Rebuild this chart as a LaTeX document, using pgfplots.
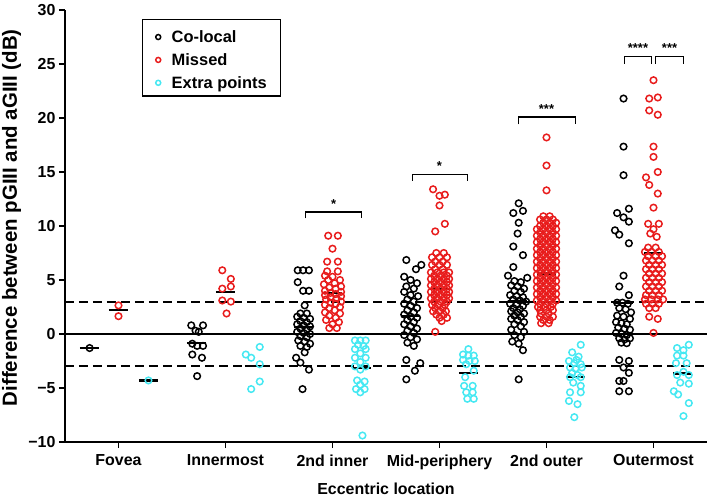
\documentclass[border=0pt]{standalone}
\usepackage{fontspec}
\setmainfont{Liberation Sans}
\usepackage{pgfplots}
\pgfplotsset{compat=1.18}
\definecolor{ptred}{RGB}{232,28,28}
\definecolor{ptcyan}{RGB}{70,232,242}

\pgfplotsset{
  pts/.style={only marks, mark=o, mark size=3.3bp, mark options={line width=1.5bp}},
  meanline/.style={black, line width=2.2bp, forget plot},
  bracket/.style={black, line width=1.3bp, forget plot},
}

\begin{document}
\begin{tikzpicture}
\useasboundingbox (-65bp,-56bp) rectangle (644bp,442bp);
\begin{axis}[
  scale only axis, width=642bp, height=432bp,
  xmin=-0.5, xmax=5.5, ymin=-10, ymax=30,
  clip=false,
  axis lines=left, axis line style={line width=1.8bp,-},
  xtick={0,...,5},
  xticklabels={Fovea,Innermost,2nd inner,Mid-periphery,2nd outer,Outermost},
  ytick={-10,-5,...,30},
  yticklabels={−10,−5,0,5,10,15,20,25,30},
  minor tick num=0,
  tick align=outside, major tick length=6bp,
  tick style={line width=1.5bp, black},
  tick label style={font=\fontsize{16}{18}\selectfont\bfseries},
  xticklabel style={yshift=-3bp},
  xlabel={Eccentric location},
  ylabel={Difference between pGIII and aGIII (dB)},
  xlabel style={font=\fontsize{16}{19}\selectfont\bfseries,
    at={(axis description cs:0.5,-0.109)}, anchor=center},
  ylabel style={font=\fontsize{20.5}{22}\selectfont\bfseries,
    at={(axis description cs:-0.083,0.519)}, anchor=center},
  legend style={at={(0.141,0.958)}, anchor=north west, draw=none, fill=none,
    font=\fontsize{16.5}{18}\selectfont\bfseries, row sep=5.5bp,
    inner xsep=0bp, inner ysep=0bp, cells={anchor=west},
    /tikz/every odd column/.append style={column sep=9bp}},
  legend image code/.code={\draw[#1, mark size=2.5bp] plot coordinates {(0bp,0bp)};},
]

% reference lines
\addplot[black, line width=2bp, forget plot] coordinates {(-0.5,0)(5.5,0)};
\addplot[black, line width=2bp, dash pattern=on 9bp off 5bp, forget plot] coordinates {(-0.5,3)(5.5,3)};
\addplot[black, line width=2bp, dash pattern=on 9bp off 5bp, forget plot] coordinates {(-0.5,-3)(5.5,-3)};

% Co-local
\addplot[pts, black] coordinates {
 (-0.27,-1.3)
 (0.68,0.8)(0.79,0.8)(0.72,0.3)(0.75,0.2)(0.69,-0.9)(0.735,-1.1)(0.79,-1.1)(0.69,-1.9)(0.78,-2.2)(0.735,-3.9)
 (1.675,5.9)(1.725,5.9)(1.78,5.9)(1.675,4.8)(1.725,4.0)(1.78,4.0)(1.74,2.65)
 (1.70,1.9)(1.76,1.9)(1.67,1.6)(1.73,1.5)(1.79,1.4)(1.70,1.2)(1.76,1.1)(1.67,0.9)(1.73,0.8)(1.79,0.7)
 (1.70,0.5)(1.76,0.4)(1.67,0.2)(1.73,0.1)(1.79,0.0)(1.70,-0.2)(1.76,-0.3)(1.68,-0.6)(1.74,-0.7)(1.79,-0.9)
 (1.70,-1.1)(1.76,-1.2)(1.74,-1.7)(1.66,-2.2)(1.70,-2.65)(1.78,-3.3)(1.72,-5.1)
 (2.69,6.85)(2.83,6.4)(2.78,6.0)(2.67,5.3)(2.73,5.0)(2.79,4.7)(2.69,4.4)(2.76,4.2)(2.67,3.9)(2.73,3.6)
 (2.80,3.5)(2.70,3.2)(2.76,3.0)(2.67,2.8)(2.73,2.6)(2.79,2.4)(2.70,2.2)(2.76,2.0)(2.67,1.8)(2.73,1.6)
 (2.79,1.5)(2.70,1.3)(2.76,1.1)(2.67,0.9)(2.73,0.7)(2.79,0.5)(2.70,0.3)(2.76,0.1)(2.67,-0.1)(2.73,-0.3)
 (2.79,-0.5)(2.70,-0.8)(2.76,-1.1)(2.69,-2.4)(2.82,-2.7)(2.77,-3.4)(2.69,-4.2)
 (3.74,12.1)(3.69,11.2)(3.78,11.4)(3.74,10.3)(3.73,9.3)(3.69,8.1)(3.78,7.3)(3.69,6.2)(3.64,5.4)(3.82,5.2)
 (3.70,4.9)(3.76,4.8)(3.67,4.5)(3.73,4.4)(3.79,4.2)(3.70,4.0)(3.76,3.9)(3.66,3.6)(3.72,3.5)(3.78,3.4)
 (3.69,3.2)(3.75,3.1)(3.81,3.0)(3.66,2.8)(3.72,2.7)(3.78,2.6)(3.69,2.4)(3.75,2.3)(3.67,2.1)(3.73,2.0)
 (3.79,1.9)(3.70,1.7)(3.76,1.6)(3.67,1.4)(3.73,1.3)(3.79,1.1)(3.70,0.9)(3.76,0.7)(3.67,0.4)(3.79,0.2)
 (3.70,-0.1)(3.76,-0.3)(3.68,-0.7)(3.74,-0.9)(3.78,-1.5)(3.74,-4.2)
 (4.72,21.8)(4.72,17.35)(4.72,14.7)(4.77,11.6)(4.66,11.2)(4.72,10.8)(4.77,10.4)(4.64,9.6)(4.68,9.2)(4.77,8.4)
 (4.72,5.4)(4.68,4.4)(4.77,3.6)
 (4.66,2.9)(4.71,2.9)(4.76,2.8)(4.68,2.4)(4.74,2.3)(4.79,2.0)(4.66,1.7)(4.72,1.6)(4.78,1.4)(4.65,1.1)
 (4.70,1.0)(4.75,0.9)(4.67,0.6)(4.73,0.5)(4.78,0.4)(4.65,0.1)(4.70,0.0)(4.75,-0.1)(4.68,-0.4)(4.73,-0.5)
 (4.78,-0.4)(4.70,-0.8)(4.75,-0.85)
 (4.68,-2.4)(4.77,-2.5)(4.72,-3.1)(4.77,-3.6)(4.68,-4.35)(4.72,-4.35)(4.68,-5.3)(4.77,-5.3)
};

% Missed
\addplot[pts, ptred] coordinates {
 (0,2.65)(0,1.65)
 (0.97,5.9)(1.05,5.1)(0.97,4.2)(1.05,4.4)(0.97,3.1)(1.05,3.0)(1.01,1.9)
 (1.96,9.1)(2.05,9.1)(2.0,7.9)(1.95,6.7)(2.05,6.7)
 (1.95,5.8)(2.05,5.8)(1.93,5.4)(2.0,5.3)(2.07,5.0)(1.96,5.0)(2.02,4.7)(1.92,4.6)(2.08,4.4)(1.97,4.3)
 (2.03,4.2)(1.93,4.0)(2.08,3.9)(1.98,3.8)(2.03,3.7)(1.93,3.6)(2.08,3.5)(1.98,3.4)(2.04,3.3)(1.94,3.2)
 (2.08,3.0)(1.98,2.9)(2.03,2.8)(1.93,2.7)(2.07,2.5)(1.97,2.4)(2.02,2.2)(1.93,2.0)(2.07,1.9)(1.97,1.7)
 (2.03,1.5)(1.94,1.3)(2.06,1.1)(2.0,0.9)(1.97,0.55)(2.04,0.55)
 (2.94,13.4)(3.0,12.8)(3.05,12.9)(3.0,11.9)(3.05,10.2)(2.96,9.5)
 (2.97,7.5)(3.04,7.5)(2.93,7.1)(3.0,7.1)(3.07,7.1)(2.96,6.7)(3.03,6.7)(2.93,6.4)(3.0,6.4)(3.07,6.4)
 (2.96,6.0)(3.03,6.0)(2.92,5.7)(2.98,5.7)(3.04,5.7)(3.09,5.7)(2.95,5.4)(3.01,5.4)(3.07,5.4)
 (2.92,5.1)(2.98,5.1)(3.04,5.1)(3.09,5.1)(2.95,4.8)(3.01,4.8)(3.07,4.8)
 (2.92,4.5)(2.98,4.5)(3.04,4.5)(3.09,4.5)(2.95,4.2)(3.01,4.2)(3.07,4.2)
 (2.92,3.9)(2.98,3.9)(3.04,3.9)(3.09,3.9)(2.95,3.6)(3.01,3.6)(3.07,3.6)
 (2.92,3.3)(2.98,3.3)(3.04,3.3)(3.09,3.3)(2.95,3.0)(3.01,3.0)(3.07,3.0)
 (2.93,2.7)(2.99,2.7)(3.05,2.7)(2.96,2.4)(3.03,2.4)(2.94,2.1)(3.0,2.1)(3.06,2.1)
 (2.97,1.8)(3.04,1.8)(3.0,1.5)(3.07,1.5)(3.02,1.2)(2.96,0.2)
 (4.0,18.2)(4.0,15.6)(4.0,13.3)
 (3.97,10.9)(4.03,10.9)(3.94,10.6)(4.0,10.6)(4.06,10.6)(3.97,10.3)(4.03,10.3)(4.09,10.3)
 (3.94,10.0)(4.0,10.0)(4.06,10.0)(3.91,9.7)(3.97,9.7)(4.03,9.7)(4.09,9.7)(3.94,9.4)(4.0,9.4)(4.06,9.4)
 (3.91,9.1)(3.97,9.1)(4.03,9.1)(4.09,9.1)(3.94,8.8)(4.0,8.8)(4.06,8.8)
 (3.91,8.5)(3.97,8.5)(4.03,8.5)(4.09,8.5)(3.94,8.2)(4.0,8.2)(4.06,8.2)
 (3.91,7.9)(3.97,7.9)(4.03,7.9)(4.09,7.9)(3.94,7.6)(4.0,7.6)(4.06,7.6)
 (3.91,7.3)(3.97,7.3)(4.03,7.3)(4.09,7.3)(3.94,7.0)(4.0,7.0)(4.06,7.0)
 (3.91,6.7)(3.97,6.7)(4.03,6.7)(4.09,6.7)(3.94,6.4)(4.0,6.4)(4.06,6.4)
 (3.91,6.1)(3.97,6.1)(4.03,6.1)(4.09,6.1)(3.94,5.8)(4.0,5.8)(4.06,5.8)
 (3.91,5.5)(3.97,5.5)(4.03,5.5)(4.09,5.5)(3.94,5.2)(4.0,5.2)(4.06,5.2)
 (3.91,4.9)(3.97,4.9)(4.03,4.9)(4.09,4.9)(3.94,4.6)(4.0,4.6)(4.06,4.6)
 (3.91,4.3)(3.97,4.3)(4.03,4.3)(4.09,4.3)(3.94,4.0)(4.0,4.0)(4.06,4.0)
 (3.91,3.7)(3.97,3.7)(4.03,3.7)(4.09,3.7)(3.94,3.4)(4.0,3.4)(4.06,3.4)
 (3.91,3.1)(3.97,3.1)(4.03,3.1)(4.09,3.1)(3.94,2.8)(4.0,2.8)(4.06,2.8)
 (3.92,2.5)(3.98,2.5)(4.04,2.5)(3.94,2.2)(4.0,2.2)(4.06,2.2)(3.95,1.9)(4.02,1.9)
 (3.94,1.6)(4.0,1.6)(4.06,1.6)(3.97,1.3)(4.03,1.3)(3.95,1.0)(4.02,1.0)
 (5.0,23.5)(4.96,21.8)(5.04,21.9)(4.96,20.7)(5.04,20.3)(5.0,17.35)(5.0,16.4)(5.04,15.0)(4.93,14.5)(4.96,13.8)
 (5.04,13.0)(5.0,11.7)(4.95,10.2)(5.05,10.2)(5.0,9.7)(4.97,9.3)(5.03,9.0)
 (4.95,8.0)(5.02,8.0)(4.92,7.6)(4.98,7.6)(5.05,7.6)(4.95,7.2)(5.02,7.2)(5.08,7.2)
 (4.93,6.8)(4.99,6.8)(5.05,6.8)(4.96,6.4)(5.02,6.4)(5.08,6.4)(4.93,6.0)(4.99,6.0)(5.05,6.0)
 (4.96,5.6)(5.02,5.6)(5.08,5.6)(4.93,5.2)(4.99,5.2)(5.05,5.2)(4.96,4.8)(5.02,4.8)(5.08,4.8)
 (4.93,4.4)(4.99,4.4)(5.05,4.4)(4.96,4.0)(5.02,4.0)(5.08,4.0)(4.93,3.6)(4.99,3.6)(5.05,3.6)
 (4.92,3.2)(4.98,3.2)(5.04,3.2)(5.09,3.2)(4.93,2.8)(4.99,2.8)(5.05,2.8)(4.96,2.4)(5.02,2.4)
 (4.96,1.6)(5.04,1.4)(5.0,0.1)
};

% Extra points
\addplot[pts, ptcyan] coordinates {
 (0.28,-4.3)
 (1.19,-1.9)(1.24,-2.2)(1.32,-1.2)(1.32,-2.8)(1.32,-4.4)(1.24,-5.1)
 (2.21,-0.6)(2.26,-0.6)(2.31,-0.6)(2.24,-1.0)(2.29,-1.1)(2.21,-1.4)(2.31,-1.4)(2.26,-1.8)(2.21,-2.2)(2.31,-2.2)
 (2.26,-2.6)(2.21,-3.0)(2.31,-3.0)(2.26,-3.3)(2.23,-4.3)(2.30,-4.4)(2.26,-4.7)(2.22,-5.1)(2.30,-5.1)(2.26,-5.4)
 (2.28,-9.4)
 (3.27,-1.4)(3.22,-1.9)(3.27,-2.0)(3.32,-2.0)(3.22,-2.4)(3.28,-2.5)(3.33,-2.5)(3.25,-2.8)(3.32,-3.4)(3.24,-4.0)
 (3.23,-4.8)(3.31,-4.8)(3.25,-5.4)(3.31,-5.4)(3.26,-6.0)(3.32,-6.0)
 (4.32,-1.0)(4.24,-1.7)(4.30,-2.1)(4.28,-2.4)(4.21,-2.5)(4.26,-2.7)(4.32,-2.8)(4.22,-3.1)(4.27,-3.2)(4.33,-3.1)
 (4.24,-3.6)(4.29,-3.8)(4.22,-4.0)(4.32,-4.0)(4.25,-4.5)(4.32,-4.8)(4.22,-5.4)(4.32,-5.4)(4.21,-6.2)(4.29,-6.5)
 (4.26,-7.7)
 (5.33,-1.0)(5.22,-1.3)(5.28,-1.5)(5.22,-2.0)(5.28,-2.0)(5.21,-2.7)(5.31,-2.7)(5.28,-3.5)(5.22,-3.8)(5.33,-3.8)
 (5.25,-4.5)(5.33,-4.6)(5.19,-5.3)(5.23,-5.6)(5.33,-6.4)(5.28,-7.6)
};
\legend{Co-local, Missed, Extra points}

% means
\addplot[meanline] coordinates {(-0.36,-1.3)(-0.18,-1.3)};
\addplot[meanline] coordinates {(-0.09,2.2)(0.09,2.2)};
\addplot[meanline] coordinates {(0.19,-4.3)(0.37,-4.3)};
\addplot[meanline] coordinates {(0.64,-0.85)(0.82,-0.85)};
\addplot[meanline] coordinates {(0.91,3.9)(1.09,3.9)};
\addplot[meanline] coordinates {(1.18,-3.0)(1.36,-3.0)};
\addplot[meanline] coordinates {(1.64,0.67)(1.82,0.67)};
\addplot[meanline] coordinates {(1.91,3.8)(2.09,3.8)};
\addplot[meanline] coordinates {(2.18,-3.15)(2.36,-3.15)};
\addplot[meanline] coordinates {(2.64,1.7)(2.82,1.7)};
\addplot[meanline] coordinates {(2.91,4.2)(3.09,4.2)};
\addplot[meanline] coordinates {(3.18,-3.6)(3.36,-3.6)};
\addplot[meanline] coordinates {(3.64,3.0)(3.82,3.0)};
\addplot[meanline] coordinates {(3.91,5.6)(4.09,5.6)};
\addplot[meanline] coordinates {(4.18,-4.0)(4.36,-4.0)};
\addplot[meanline] coordinates {(4.63,2.9)(4.81,2.9)};
\addplot[meanline] coordinates {(4.91,7.5)(5.09,7.5)};
\addplot[meanline] coordinates {(5.18,-3.65)(5.36,-3.65)};

% significance brackets
\addplot[bracket] coordinates {(1.75,10.7)(1.75,11.3)(2.27,11.3)(2.27,10.7)};
\addplot[bracket] coordinates {(2.75,14.2)(2.75,14.8)(3.26,14.8)(3.26,14.2)};
\addplot[bracket] coordinates {(3.74,19.4)(3.74,20.1)(4.27,20.1)(4.27,19.4)};
\addplot[bracket] coordinates {(4.73,25.0)(4.73,25.7)(4.98,25.7)(4.98,25.0)};
\addplot[bracket] coordinates {(5.02,25.0)(5.02,25.7)(5.28,25.7)(5.28,25.0)};
\node[anchor=base, font=\fontsize{13}{14}\selectfont\bfseries, inner sep=0pt] at (axis cs:2.01,11.65) {*};
\node[anchor=base, font=\fontsize{13}{14}\selectfont\bfseries, inner sep=0pt] at (axis cs:3.0,15.15) {*};
\node[anchor=base, font=\fontsize{13}{14}\selectfont\bfseries, inner sep=0pt] at (axis cs:4.0,20.45) {***};
\node[anchor=base, font=\fontsize{13}{14}\selectfont\bfseries, inner sep=0pt] at (axis cs:4.855,26.05) {****};
\node[anchor=base, font=\fontsize{13}{14}\selectfont\bfseries, inner sep=0pt] at (axis cs:5.15,26.05) {***};
\end{axis}
% legend frame
\draw[black, line width=1.4bp] (77.7bp,422.5bp) rectangle (215.7bp,346bp);
\end{tikzpicture}
\end{document}
